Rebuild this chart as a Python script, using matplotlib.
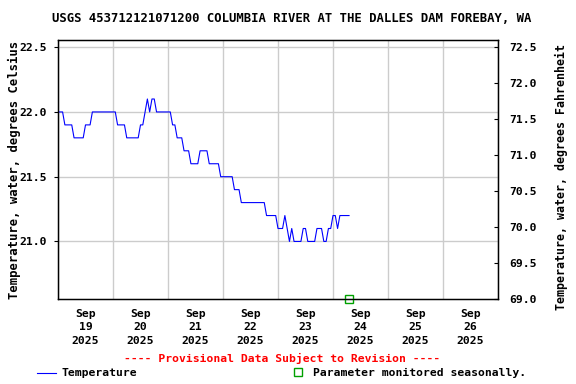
import matplotlib
matplotlib.use('Agg')
import matplotlib.pyplot as plt
import matplotlib.dates as mdates
import pandas as pd
import numpy as np


# hourly water temperature (deg C)
start_time = '2025-09-19 00:00'
temps_c = [
    22.0, 22.0, 22.0, 21.9, 21.9, 21.9, 21.9, 21.8, 21.8, 21.8,
    21.8, 21.8, 21.9, 21.9, 21.9, 22.0, 22.0, 22.0, 22.0, 22.0,
    22.0, 22.0, 22.0, 22.0, 22.0, 22.0, 21.9, 21.9, 21.9, 21.9,
    21.8, 21.8, 21.8, 21.8, 21.8, 21.8, 21.9, 21.9, 22.0, 22.1,
    22.0, 22.1, 22.1, 22.0, 22.0, 22.0, 22.0, 22.0, 22.0, 22.0,
    21.9, 21.9, 21.8, 21.8, 21.8, 21.7, 21.7, 21.7, 21.6, 21.6,
    21.6, 21.6, 21.7, 21.7, 21.7, 21.7, 21.6, 21.6, 21.6, 21.6,
    21.6, 21.5, 21.5, 21.5, 21.5, 21.5, 21.5, 21.4, 21.4, 21.4,
    21.3, 21.3, 21.3, 21.3, 21.3, 21.3, 21.3, 21.3, 21.3, 21.3,
    21.3, 21.2, 21.2, 21.2, 21.2, 21.2, 21.1, 21.1, 21.1, 21.2,
    21.1, 21.0, 21.1, 21.0, 21.0, 21.0, 21.0, 21.1, 21.1, 21.0,
    21.0, 21.0, 21.0, 21.1, 21.1, 21.1, 21.0, 21.0, 21.1, 21.1,
    21.2, 21.2, 21.1, 21.2, 21.2, 21.2, 21.2, 21.2,
]

x_start = '2025-09-19'
x_end = '2025-09-27'
c_ticks = [21.0, 21.5, 22.0, 22.5]
f_ticks = [69.0, 69.5, 70.0, 70.5, 71.0, 71.5, 72.0, 72.5]
f_min, f_max = 69.0, 72.6

title = 'USGS 453712121071200 COLUMBIA RIVER AT THE DALLES DAM FOREBAY, WA'

FONT = 'DejaVu Sans Mono'
FS = 8.2


def f_to_c(f):
    return (np.asarray(f) - 32.0) * 5.0 / 9.0


def main():
    times = pd.date_range(start_time, periods=len(temps_c), freq='h')

    fig = plt.figure(figsize=(5.76, 3.84), dpi=100)
    ax = fig.add_axes([58 / 576, 85 / 384, 440 / 576, 259 / 384])

    ax.plot(times, temps_c, color='#0000ff', lw=0.8, zorder=3)
    # seasonal marker at end of record
    ax.plot([times[-1]], [f_to_c(f_min)], marker='s', ms=6, mfc='none',
            mec='#00a000', mew=1.0, ls='none', clip_on=False, zorder=4)

    ax.set_xlim(pd.Timestamp(x_start), pd.Timestamp(x_end))
    ax.set_ylim(f_to_c(f_min), f_to_c(f_max))

    # gridlines at midnight, labels at noon
    ax.xaxis.set_major_locator(mdates.DayLocator())
    ax.xaxis.set_major_formatter(plt.NullFormatter())
    ax.xaxis.set_minor_locator(mdates.HourLocator(byhour=[12]))
    ax.xaxis.set_minor_formatter(mdates.DateFormatter('%b\n%d\n%Y'))
    ax.tick_params(axis='x', which='major', length=0)
    ax.tick_params(axis='x', which='minor', length=0, pad=7)
    ax.set_yticks(c_ticks)
    ax.set_yticklabels(['%.1f' % v for v in c_ticks])
    ax.tick_params(axis='y', direction='out', length=3, pad=5)
    ax.grid(True, which='major', color='#cccccc', lw=1.0)

    for lab in ax.get_xticklabels(minor=True):
        lab.set_fontfamily(FONT)
        lab.set_fontweight('bold')
        lab.set_fontsize(FS)
        lab.set_linespacing(1.45)
    for lab in ax.get_yticklabels():
        lab.set_fontfamily(FONT)
        lab.set_fontweight('bold')
        lab.set_fontsize(FS)

    for sp in ax.spines.values():
        sp.set_color('black')
        sp.set_linewidth(1.0)

    ax2 = ax.twinx()
    ax2.set_ylim(f_min, f_max)
    ax2.set_yticks(f_ticks)
    ax2.set_yticklabels(['%.1f' % v for v in f_ticks])
    ax2.tick_params(axis='y', direction='in', length=3, pad=8)
    for lab in ax2.get_yticklabels():
        lab.set_fontfamily(FONT)
        lab.set_fontweight('bold')
        lab.set_fontsize(FS)

    ax.set_ylabel('Temperature, water, degrees Celsius', fontfamily=FONT,
                  fontweight='bold', fontsize=8.8)
    ax.yaxis.set_label_coords(-0.084, 0.5)
    ax2.set_ylabel('Temperature, water, degrees Fahrenheit', fontfamily=FONT,
                   fontweight='bold', fontsize=8.4)
    ax2.yaxis.set_label_coords(1.13, 0.47)

    fig.text(292 / 576, 1 - 19 / 384, title, ha='center', va='center',
             fontfamily=FONT, fontweight='bold', fontsize=8.8)
    fig.text(282 / 576, 1 - 358 / 384,
             '---- Provisional Data Subject to Revision ----',
             ha='center', va='center', color='red', fontfamily=FONT,
             fontweight='bold', fontsize=FS)

    # legend row
    fig.add_artist(plt.Line2D([37 / 576, 56 / 576], [1 - 373 / 384] * 2,
                              color='#0000ff', lw=0.8))
    fig.text(62 / 576, 1 - 373 / 384, 'Temperature', ha='left', va='center',
             fontfamily=FONT, fontweight='bold', fontsize=FS)
    fig.add_artist(plt.Line2D([298 / 576], [1 - 372 / 384], marker='s',
                              ms=6, mfc='none', mec='#00a000', mew=1.0))
    fig.text(313 / 576, 1 - 373 / 384, 'Parameter monitored seasonally.',
             ha='left', va='center', fontfamily=FONT, fontweight='bold',
             fontsize=FS)

    fig.savefig('out.png', dpi=100)


if __name__ == '__main__':
    main()
